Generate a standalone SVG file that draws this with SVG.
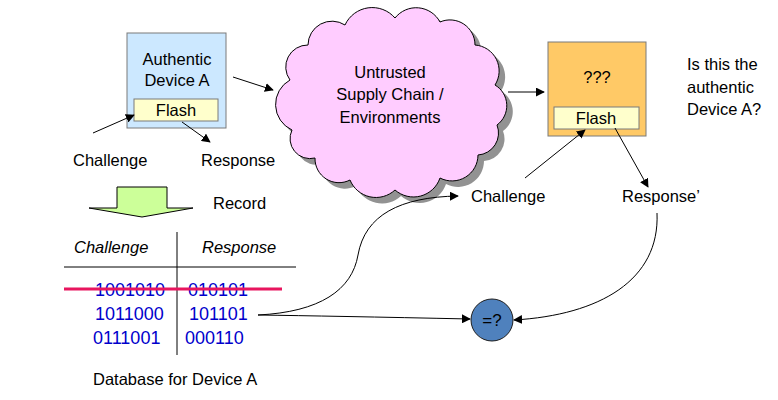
<svg xmlns="http://www.w3.org/2000/svg" width="778" height="400" viewBox="0 0 778 400">
<defs>
<marker id="ah" viewBox="0 0 10 10" refX="9" refY="5" markerWidth="9" markerHeight="9" markerUnits="userSpaceOnUse" orient="auto">
<path d="M0,0 L10,5 L0,10 Z" fill="#000"/>
</marker>
<path id="cloud" d="M290,80 A22,22 0 0 1 308,45 A24,24 0 0 1 345,25 A30,30 0 0 1 395,18 A27,27 0 0 1 440,22 A25,25 0 0 1 475,45 A26,26 0 0 1 495,85 A24,24 0 0 1 497,125 A22,22 0 0 1 478,155 A26,26 0 0 1 440,178 A28,28 0 0 1 395,190 A28,28 0 0 1 350,180 A24,24 0 0 1 315,158 A20,20 0 0 1 292,130 A28,28 0 0 1 290,80 Z"/>
</defs>
<style>
text{font-family:"Liberation Sans",Arial,sans-serif;font-size:16.5px;fill:#000}
.c{text-anchor:middle}
.i{font-style:italic}
.d{font-size:18px;fill:#0000CC}
.box{stroke:#7a7a7a;stroke-width:1}
.ln{fill:none;stroke:#000;stroke-width:1}
</style>
<rect width="778" height="400" fill="#fff"/>

<g id="deviceA">
<rect class="box" x="127" y="33" width="99" height="95" fill="#CCE8FF"/>
<text class="c" x="177" y="65">Authentic</text>
<text class="c" x="177" y="86">Device A</text>
<rect class="box" x="134" y="99" width="84" height="22" fill="#FFFFCC"/>
<text class="c" x="176" y="116">Flash</text>
</g>

<g id="labelsA">
<text x="73" y="166">Challenge</text>
<text x="201" y="166">Response</text>
</g>

<g id="recordArrow">
<path d="M117,187 L167,187 L167,208 L193,208 L142,217 L89,208 L117,208 Z" fill="#CCFF99" stroke="#000" stroke-width="1"/>
<text x="213" y="209">Record</text>
</g>

<g id="cloudNode">
<use href="#cloud" transform="translate(6,6)" fill="#7f7f7f" opacity="0.85"/>
<use href="#cloud" fill="#FFCCFF" stroke="#000" stroke-width="1"/>
<text class="c" x="390" y="78">Untrusted</text>
<text class="c" x="390" y="100">Supply Chain /</text>
<text class="c" x="390" y="123">Environments</text>
</g>

<g id="deviceUnknown">
<rect class="box" x="548" y="42" width="98" height="94" fill="#FFC966"/>
<text class="c" x="597" y="83">???</text>
<rect class="box" x="554" y="107" width="85" height="22" fill="#FFFFCC"/>
<text class="c" x="596" y="124">Flash</text>
</g>

<g id="question">
<text x="687" y="70">Is this the</text>
<text x="687" y="93">authentic</text>
<text x="687" y="115">Device A?</text>
</g>

<g id="labelsB">
<text x="471" y="202">Challenge</text>
<text x="622" y="202">Response’</text>
</g>

<g id="database">
<text class="i" x="74" y="253">Challenge</text>
<text class="i" x="202" y="253">Response</text>
<line class="ln" x1="64" y1="267" x2="296" y2="267"/>
<line class="ln" x1="177" y1="232" x2="177" y2="355"/>
<text class="d" x="95" y="296">1001010</text>
<text class="d" x="188" y="296">010101</text>
<text class="d" x="95" y="320">1011000</text>
<text class="d" x="189" y="320">101101</text>
<text class="d" x="93" y="344">0111001</text>
<text class="d" x="185" y="344">000110</text>
<line x1="64" y1="289" x2="282" y2="289" stroke="#E8155E" stroke-width="3"/>
<text x="93" y="385">Database for Device A</text>
</g>

<g id="compare">
<circle cx="492" cy="320" r="21" fill="#4F81BD" stroke="#1f1f1f" stroke-width="1"/>
<text class="c" x="492" y="326" style="font-size:17px">=?</text>
</g>

<g id="connectors" class="ln" marker-end="url(#ah)">
<line x1="233" y1="77" x2="273" y2="90" class="ln" marker-end="url(#ah)"/>
<line x1="93" y1="133" x2="134" y2="115" class="ln" marker-end="url(#ah)"/>
<line x1="182" y1="122" x2="210" y2="142" class="ln" marker-end="url(#ah)"/>
<line x1="508" y1="92" x2="544" y2="92" class="ln" marker-end="url(#ah)"/>
<line x1="525" y1="178" x2="585" y2="130" class="ln" marker-end="url(#ah)"/>
<line x1="615" y1="128" x2="648" y2="187" class="ln" marker-end="url(#ah)"/>
<path d="M258,315 C320,312 352,290 358,255 C365,215 400,197 458,196" class="ln" marker-end="url(#ah)"/>
<path d="M258,315 Q330,316 470,319" class="ln" marker-end="url(#ah)"/>
<path d="M657,213 C660,280 600,315 514,320" class="ln" marker-end="url(#ah)"/>
</g>
</svg>
